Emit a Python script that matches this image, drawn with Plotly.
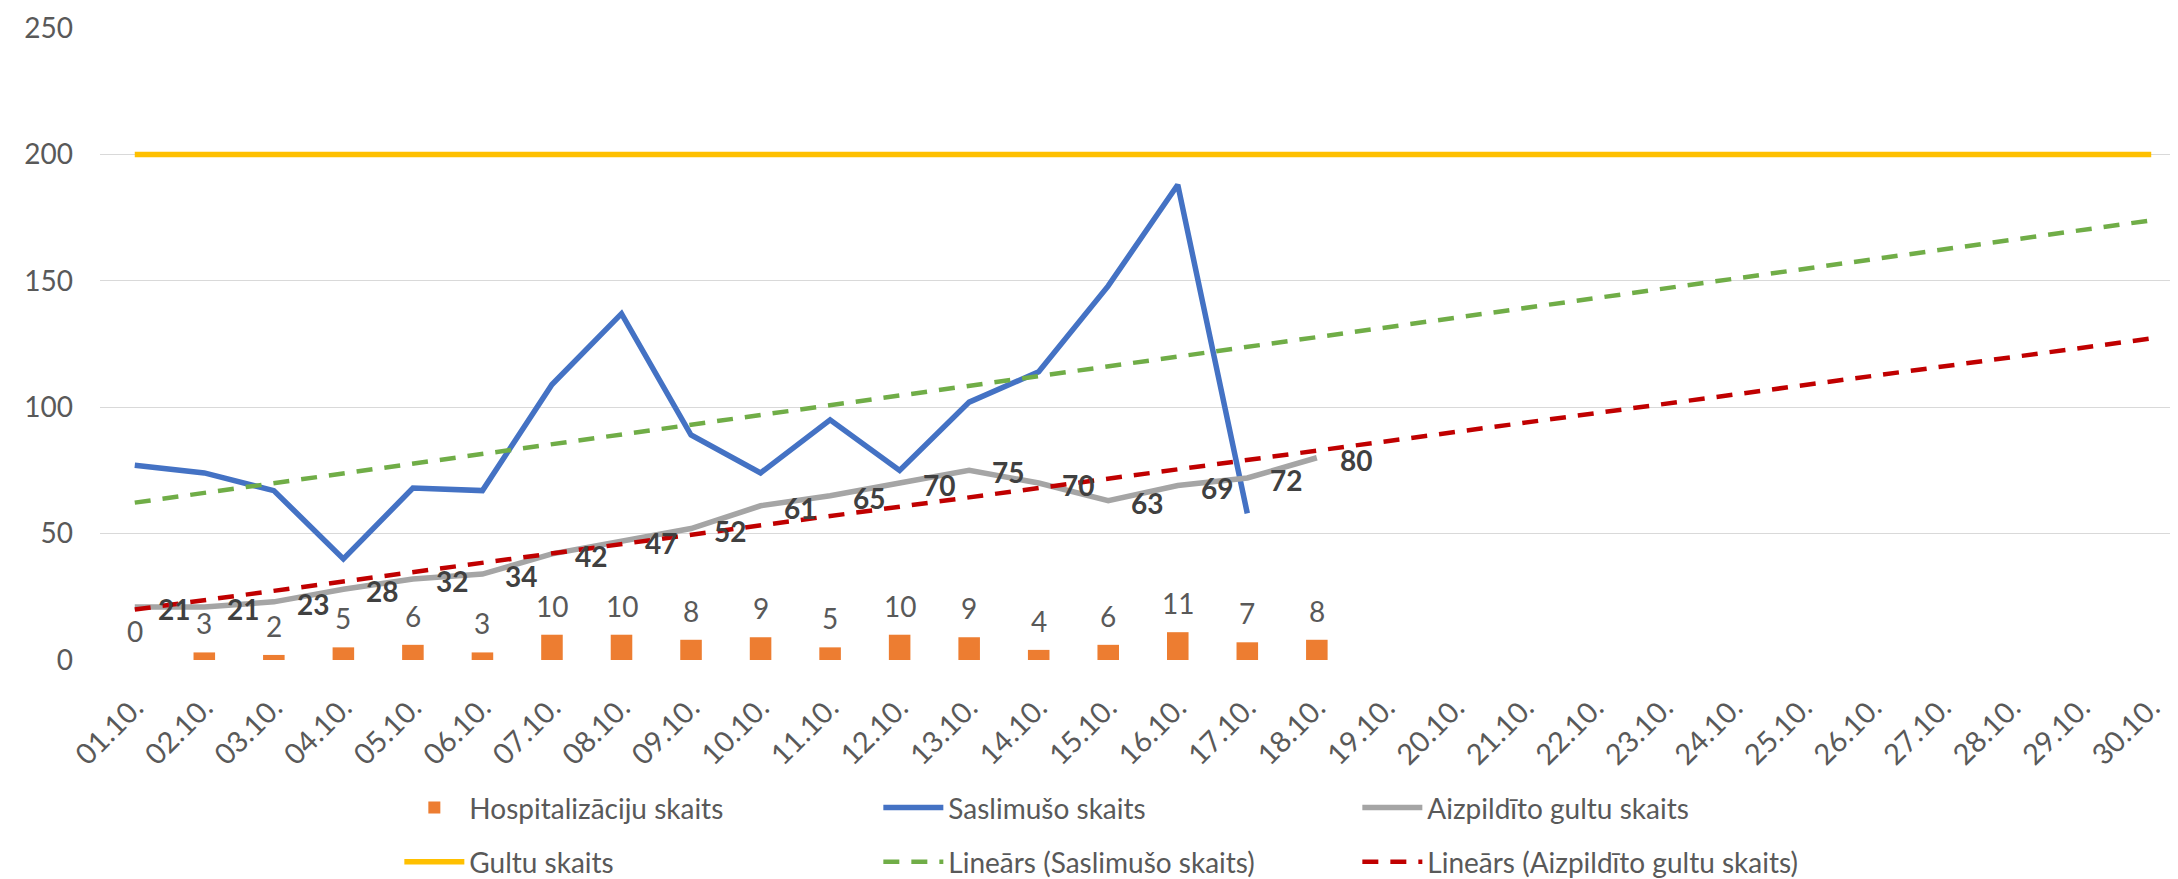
import numpy as np
import plotly.graph_objects as go

days = ["01.10.", "02.10.", "03.10.", "04.10.", "05.10.", "06.10.", "07.10.", "08.10.",
        "09.10.", "10.10.", "11.10.", "12.10.", "13.10.", "14.10.", "15.10.", "16.10.",
        "17.10.", "18.10.", "19.10.", "20.10.", "21.10.", "22.10.", "23.10.", "24.10.",
        "25.10.", "26.10.", "27.10.", "28.10.", "29.10.", "30.10."]
hospitalized = [0, 3, 2, 5, 6, 3, 10, 10, 8, 9, 5, 10, 9, 4, 6, 11, 7, 8]
cases = [77, 74, 67, 40, 68, 67, 109, 137, 89, 74, 95, 75, 102, 114, 148, 188, 58]
occupied_beds = [21, 21, 23, 28, 32, 34, 42, 47, 52, 61, 65, 70, 75, 70, 63, 69, 72, 80]
total_beds = [200, 200, 200, 200, 200, 200, 200, 200, 200, 200, 200, 200, 200, 200, 200,
              200, 200, 200, 200, 200, 200, 200, 200, 200, 200, 200, 200, 200, 200, 200]

FONT = "Lato"
TXT = "#595959"

# Excel-style linear trendlines (least squares on the series, extended over all days)
xi_all = np.arange(1, len(days) + 1)
c_fit = np.polyfit(np.arange(1, len(cases) + 1), cases, 1)
o_fit = np.polyfit(np.arange(1, len(occupied_beds) + 1), occupied_beds, 1)
trend_cases = np.polyval(c_fit, xi_all)
trend_occ = np.polyval(o_fit, xi_all)

fig = go.Figure()
fig.add_trace(go.Bar(x=days[:len(hospitalized)], y=hospitalized, name="Hospitalizāciju skaits",
                     marker=dict(color="#ED7D31", line=dict(width=0)), width=0.31,
                     legend="legend"))
fig.add_trace(go.Scatter(x=days[:len(cases)], y=cases, mode="lines", name="Saslimušo skaits",
                         line=dict(color="#4472C4", width=5.5), legend="legend"))
fig.add_trace(go.Scatter(x=days[:len(occupied_beds)], y=occupied_beds, mode="lines",
                         name="Aizpildīto gultu skaits",
                         line=dict(color="#A5A5A5", width=5.5), legend="legend"))
fig.add_trace(go.Scatter(x=days, y=total_beds, mode="lines", name="Gultu skaits",
                         line=dict(color="#FFC000", width=5.5), legend="legend2"))
fig.add_trace(go.Scatter(x=days, y=trend_cases, mode="lines", name="Lineārs (Saslimušo skaits)",
                         line=dict(color="#70AD47", width=4.5, dash="16px,12px"), legend="legend2"))
fig.add_trace(go.Scatter(x=days, y=trend_occ, mode="lines",
                         name="Lineārs (Aizpildīto gultu skaits)",
                         line=dict(color="#C00000", width=4.5, dash="16px,12px"), legend="legend2"))

annotations = []
for d, v in zip(days, hospitalized):
    annotations.append(dict(x=d, y=v, text=str(v), showarrow=False, xanchor="center",
                            yanchor="middle", yshift=29,
                            font=dict(family=FONT, size=28, color=TXT)))
for d, v in zip(days, occupied_beds):
    annotations.append(dict(x=d, y=v, text="<b>%d</b>" % v, showarrow=False, xanchor="left",
                            yanchor="middle", xshift=21, yshift=-2,
                            font=dict(family=FONT, size=28, color="#404040")))

legend_common = dict(orientation="h", x=0.1435, xanchor="left", yanchor="middle",
                     font=dict(family=FONT, size=28, color=TXT), entrywidth=404,
                     entrywidthmode="pixels", bgcolor="rgba(0,0,0,0)", itemwidth=60,
                     traceorder="normal")

fig.update_layout(
    width=2178, height=879,
    margin=dict(l=92, r=0, t=20, b=221),
    paper_bgcolor="white", plot_bgcolor="white",
    font=dict(family=FONT, size=28, color=TXT),
    annotations=annotations,
    legend=dict(y=-0.234, **legend_common),
    legend2=dict(y=-0.32, **legend_common),
    showlegend=True,
)
fig.update_xaxes(type="category", categoryorder="array", categoryarray=days,
                 range=[-0.5, len(days) - 0.5], tickangle=-45, showgrid=False,
                 showline=False, ticks="outside", ticklen=18, tickcolor="rgba(0,0,0,0)",
                 tickfont=dict(family=FONT, size=29, color=TXT), zeroline=False)
fig.update_yaxes(range=[0, 250], dtick=50, showgrid=True, gridcolor="#D9D9D9", gridwidth=1.3,
                 zeroline=False, showline=False, ticks="", ticklabelstandoff=26,
                 tickfont=dict(family=FONT, size=28, color=TXT))

fig.write_html("out.html")
